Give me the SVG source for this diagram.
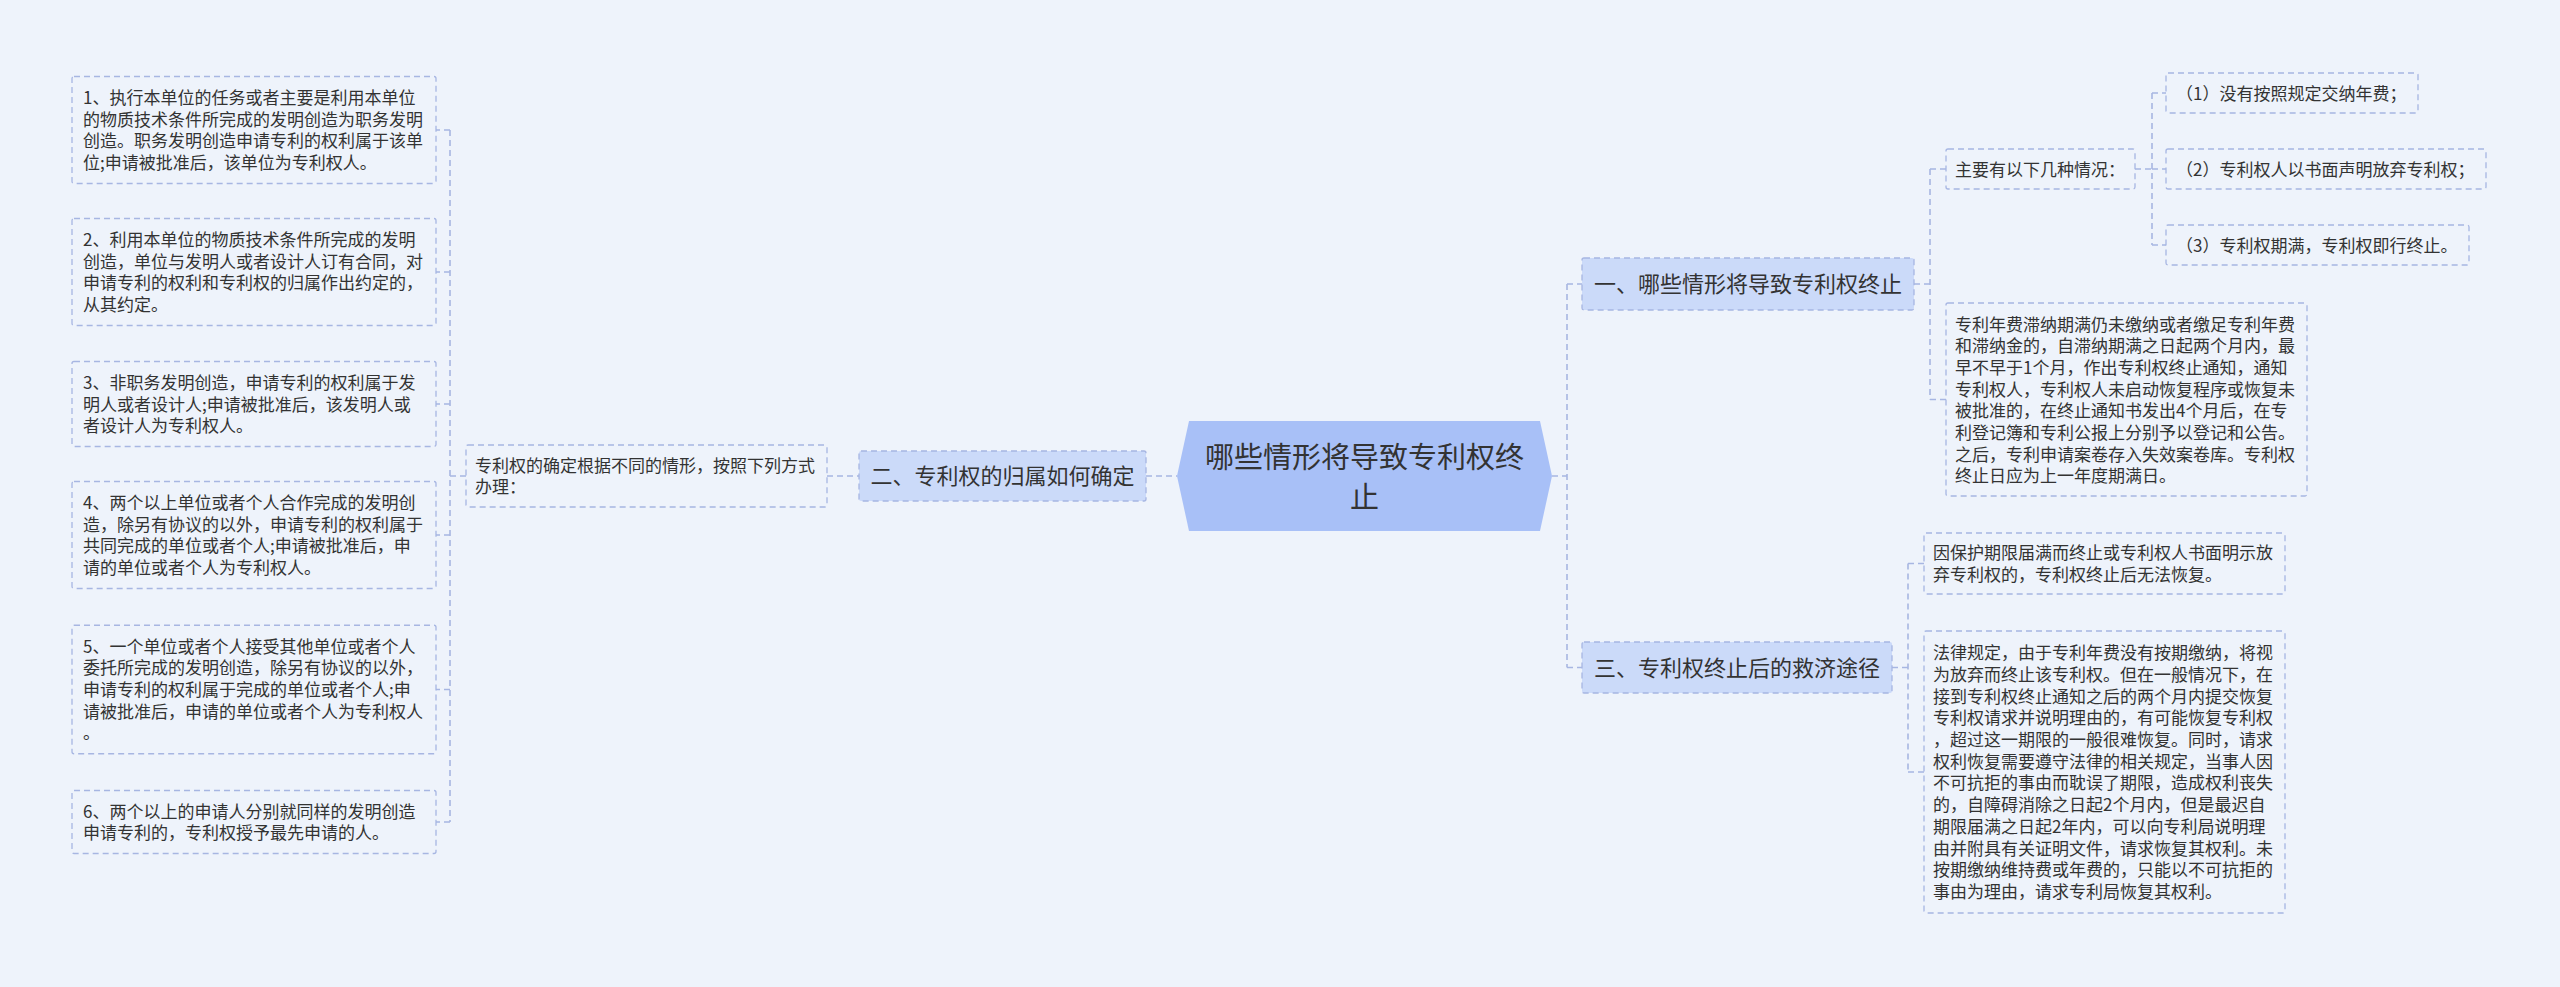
<svg xmlns="http://www.w3.org/2000/svg" width="2560" height="987" viewBox="0 0 2560 987">
<style>
.bg{fill:#eef3fb}
.leaf{fill:#eef3fb;stroke:#a7b6e2;stroke-width:1.3;stroke-dasharray:6 4}
.topic{fill:#cbdaf9;stroke:#a7b6e2;stroke-width:1.3;stroke-dasharray:6 4}
.root{fill:#a8c0f7}
.conn{fill:none;stroke:#a7b6e2;stroke-width:1.6;stroke-dasharray:6 4}
text{font-family:"Noto Sans CJK SC","Noto Sans",sans-serif;fill:#333}
.s{font-size:17px}
.m{font-size:22px}
.l{font-size:29px}
.c{text-anchor:middle}
</style>
<rect class="bg" x="0" y="0" width="2560" height="987"/>
<g id="connectors">
<path class="conn" d="M466,476 H450 M450,130 V822 M450,130 H436 M450,272 H436 M450,404 H436 M450,535 H436 M450,689.5 H436 M450,822 H436"/>
<path class="conn" d="M827,476 H859 M1146,476 H1177"/>
<path class="conn" d="M1552,476 H1567 M1567,284 V667.5 M1567,284 H1582 M1567,667.5 H1582"/>
<path class="conn" d="M1914,284 H1930 M1930,169 V399.5 M1930,169 H1946 M1930,399.5 H1946"/>
<path class="conn" d="M2135,169 H2152 M2152,93 V245 M2152,93 H2166 M2152,169 H2166 M2152,245 H2166"/>
<path class="conn" d="M1892,667.5 H1908 M1908,563.5 V772 M1908,563.5 H1924 M1908,772 H1924"/>
</g>
<g id="root">
<polygon class="root" points="1177,476 1189,421 1540,421 1552,476 1540,531 1189,531"/>
<text class="l c" x="1364.5" y="468">哪些情形将导致专利权终</text>
<text class="l c" x="1364.5" y="508">止</text>
</g>
<g id="n2">
<rect class="topic" x="859" y="451" width="287" height="50" rx="2"/>
<text class="m c" x="1002.5" y="484">二、专利权的归属如何确定</text>
</g>
<g id="n2-0">
<rect class="leaf" x="466" y="445" width="361" height="62" rx="2"/>
<text class="s" x="475" y="471.5">专利权的确定根据不同的情形，按照下列方式</text>
<text class="s" x="475" y="493.2">办理：</text>
</g>
<g id="n2-1">
<rect class="leaf" x="72" y="76.5" width="364" height="107" rx="2"/>
<text class="s" x="83" y="103.9">1、执行本单位的任务或者主要是利用本单位</text>
<text class="s" x="83" y="125.6">的物质技术条件所完成的发明创造为职务发明</text>
<text class="s" x="83" y="147.3">创造。职务发明创造申请专利的权利属于该单</text>
<text class="s" x="83" y="169">位;申请被批准后，该单位为专利权人。</text>
</g>
<g id="n2-2">
<rect class="leaf" x="72" y="218.5" width="364" height="107" rx="2"/>
<text class="s" x="83" y="245.9">2、利用本单位的物质技术条件所完成的发明</text>
<text class="s" x="83" y="267.6">创造，单位与发明人或者设计人订有合同，对</text>
<text class="s" x="83" y="289.3">申请专利的权利和专利权的归属作出约定的，</text>
<text class="s" x="83" y="311">从其约定。</text>
</g>
<g id="n2-3">
<rect class="leaf" x="72" y="361.5" width="364" height="85" rx="2"/>
<text class="s" x="83" y="389">3、非职务发明创造，申请专利的权利属于发</text>
<text class="s" x="83" y="410.7">明人或者设计人;申请被批准后，该发明人或</text>
<text class="s" x="83" y="432.4">者设计人为专利权人。</text>
</g>
<g id="n2-4">
<rect class="leaf" x="72" y="481.5" width="364" height="107" rx="2"/>
<text class="s" x="83" y="508.9">4、两个以上单位或者个人合作完成的发明创</text>
<text class="s" x="83" y="530.6">造，除另有协议的以外，申请专利的权利属于</text>
<text class="s" x="83" y="552.3">共同完成的单位或者个人;申请被批准后，申</text>
<text class="s" x="83" y="574">请的单位或者个人为专利权人。</text>
</g>
<g id="n2-5">
<rect class="leaf" x="72" y="625.25" width="364" height="128.5" rx="2"/>
<text class="s" x="83" y="652.6">5、一个单位或者个人接受其他单位或者个人</text>
<text class="s" x="83" y="674.3">委托所完成的发明创造，除另有协议的以外，</text>
<text class="s" x="83" y="696">申请专利的权利属于完成的单位或者个人;申</text>
<text class="s" x="83" y="717.7">请被批准后，申请的单位或者个人为专利权人</text>
<text class="s" x="83" y="739.4">。</text>
</g>
<g id="n2-6">
<rect class="leaf" x="72" y="790.5" width="364" height="63" rx="2"/>
<text class="s" x="83" y="817.7">6、两个以上的申请人分别就同样的发明创造</text>
<text class="s" x="83" y="839.4">申请专利的，专利权授予最先申请的人。</text>
</g>
<g id="n1">
<rect class="topic" x="1582" y="258" width="332" height="52" rx="2"/>
<text class="m c" x="1748" y="292">一、哪些情形将导致专利权终止</text>
</g>
<g id="n1-0">
<rect class="leaf" x="1946" y="149" width="189" height="40" rx="2"/>
<text class="s" x="1955" y="175.5">主要有以下几种情况：</text>
</g>
<g id="n1-0-1">
<rect class="leaf" x="2166" y="73" width="252" height="40" rx="2"/>
<text class="s" x="2176" y="99.5">（1）没有按照规定交纳年费；</text>
</g>
<g id="n1-0-2">
<rect class="leaf" x="2166" y="149" width="320" height="40" rx="2"/>
<text class="s" x="2176" y="175.5">（2）专利权人以书面声明放弃专利权；</text>
</g>
<g id="n1-0-3">
<rect class="leaf" x="2166" y="225" width="303" height="40" rx="2"/>
<text class="s" x="2176" y="251.5">（3）专利权期满，专利权即行终止。</text>
</g>
<g id="n1-1">
<rect class="leaf" x="1946" y="303" width="361" height="193" rx="2"/>
<text class="s" x="1955" y="330.5">专利年费滞纳期满仍未缴纳或者缴足专利年费</text>
<text class="s" x="1955" y="352.2">和滞纳金的，自滞纳期满之日起两个月内，最</text>
<text class="s" x="1955" y="373.9">早不早于1个月，作出专利权终止通知，通知</text>
<text class="s" x="1955" y="395.6">专利权人，专利权人未启动恢复程序或恢复未</text>
<text class="s" x="1955" y="417.3">被批准的，在终止通知书发出4个月后，在专</text>
<text class="s" x="1955" y="439">利登记簿和专利公报上分别予以登记和公告。</text>
<text class="s" x="1955" y="460.7">之后，专利申请案卷存入失效案卷库。专利权</text>
<text class="s" x="1955" y="482.4">终止日应为上一年度期满日。</text>
</g>
<g id="n3">
<rect class="topic" x="1582" y="642" width="310" height="51" rx="2"/>
<text class="m c" x="1737" y="676">三、专利权终止后的救济途径</text>
</g>
<g id="n3-1">
<rect class="leaf" x="1924" y="533" width="361" height="61" rx="2"/>
<text class="s" x="1933" y="559.2">因保护期限届满而终止或专利权人书面明示放</text>
<text class="s" x="1933" y="580.9">弃专利权的，专利权终止后无法恢复。</text>
</g>
<g id="n3-2">
<rect class="leaf" x="1924" y="631" width="361" height="282" rx="2"/>
<text class="s" x="1933" y="659.2">法律规定，由于专利年费没有按期缴纳，将视</text>
<text class="s" x="1933" y="680.9">为放弃而终止该专利权。但在一般情况下，在</text>
<text class="s" x="1933" y="702.6">接到专利权终止通知之后的两个月内提交恢复</text>
<text class="s" x="1933" y="724.3">专利权请求并说明理由的，有可能恢复专利权</text>
<text class="s" x="1933" y="746">，超过这一期限的一般很难恢复。同时，请求</text>
<text class="s" x="1933" y="767.7">权利恢复需要遵守法律的相关规定，当事人因</text>
<text class="s" x="1933" y="789.4">不可抗拒的事由而耽误了期限，造成权利丧失</text>
<text class="s" x="1933" y="811.1">的，自障碍消除之日起2个月内，但是最迟自</text>
<text class="s" x="1933" y="832.8">期限届满之日起2年内，可以向专利局说明理</text>
<text class="s" x="1933" y="854.5">由并附具有关证明文件，请求恢复其权利。未</text>
<text class="s" x="1933" y="876.2">按期缴纳维持费或年费的，只能以不可抗拒的</text>
<text class="s" x="1933" y="897.9">事由为理由，请求专利局恢复其权利。</text>
</g>
</svg>
